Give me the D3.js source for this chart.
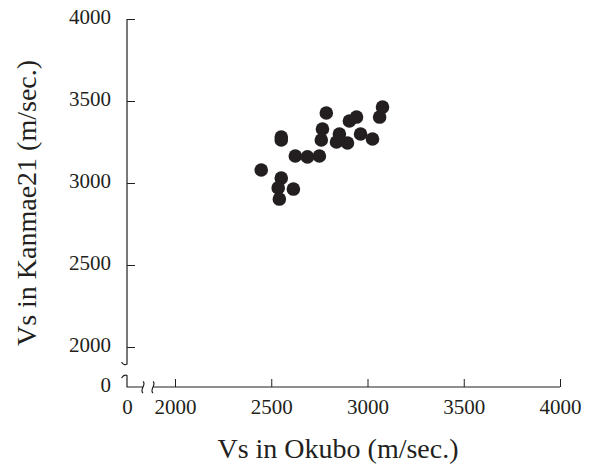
<!DOCTYPE html>
<html>
<head>
<meta charset="utf-8">
<script src="https://cdn.jsdelivr.net/npm/d3@7"></script>
<style>
  body { margin: 0; background: #fff; }
  text { font-family: "Liberation Serif", "Times New Roman", serif; fill: #231f20; }
</style>
</head>
<body>
<svg id="chart" width="592" height="465"></svg>
<script>
// Vs in Okubo (x) vs Vs in Kanmae21 (y), m/sec.
var okubo   = [2448, 2552, 2552, 2552, 2536, 2542, 2615, 2625, 2688, 2750, 2760,
               2766, 2786, 2854, 2839, 2896, 2906, 2943, 2964, 3026, 3078, 3063]
var kanmae  = [3079, 3280, 3262, 3030, 2970, 2902, 2963, 3165, 3159, 3165, 3262,
               3329, 3427, 3299, 3250, 3244, 3378, 3402, 3299, 3268, 3463, 3402]
var xTicks = [0, 2000, 2500, 3000, 3500, 4000]
var yTicks = [0, 2000, 2500, 3000, 3500, 4000]

var ink = "#231f20"
var svg = d3.select("#chart")

// broken axes: 0 sits at the corner, the real range starts at 2000
var x = d3.scaleLinear().domain([0, 2000, 4000]).range([127, 175, 560])
var y = d3.scaleLinear().domain([0, 2000, 4000]).range([387, 347, 19])

var xAxis = svg.append("g").attr("transform", "translate(0," + y(0) + ")")
  .call(d3.axisBottom(x).tickValues(xTicks).tickFormat(d3.format("d"))
        .tickSizeInner(-8).tickSizeOuter(0).tickPadding(14))
var yAxis = svg.append("g").attr("transform", "translate(" + x(0) + ",0)")
  .call(d3.axisLeft(y).tickValues(yTicks).tickFormat(d3.format("d"))
        .tickSizeInner(-8).tickSizeOuter(0).tickPadding(16))

;[xAxis, yAxis].forEach(function(a){
  a.select(".domain").remove()
  a.selectAll(".tick line").attr("stroke", ink)
  a.selectAll(".tick").filter(function(d){ return d === 0 }).select("line").remove()
  a.selectAll(".tick text").attr("font-size", 21).attr("font-family", "Liberation Serif").attr("fill", ink)
})
xAxis.selectAll(".tick text").attr("dy", "0.62em")
yAxis.selectAll(".tick text").attr("dy", "0.22em")
yAxis.selectAll(".tick").filter(function(d){ return d === 0 }).select("text").attr("dy", "0.2em")

// axis lines with break marks
var axisLines = svg.append("g").attr("fill", "none").attr("stroke", ink).attr("stroke-width", 1.2)
var x0 = x(0), y0 = y(0)
axisLines.append("path").attr("d", "M" + x0 + "," + y(4000) + "V364 Q124,366 121.5,362")
axisLines.append("path").attr("d", "M121.5,378 Q124,374 " + x0 + ",375.5 V" + y0 + " H143")
axisLines.append("path").attr("d", "M143,381.5 C147,384 139,390 143,393")
axisLines.append("path").attr("d", "M153,381.5 C157,384 149,390 153,393")
axisLines.append("path").attr("d", "M153," + y0 + " H" + x(4000))

// points
svg.append("g").selectAll("circle")
  .data(okubo)
  .enter().append("circle")
  .attr("cx", function(d){ return x(d) })
  .attr("cy", function(d, i){ return y(kanmae[i]) })
  .attr("r", 6.8)
  .attr("fill", ink)

// axis titles
svg.append("text").attr("x", 338).attr("y", 458).attr("text-anchor", "middle")
  .attr("font-size", 28).text("Vs in Okubo (m/sec.)")
svg.append("text").attr("transform", "translate(36,203) rotate(-90)").attr("text-anchor", "middle")
  .attr("font-size", 28).text("Vs in Kanmae21 (m/sec.)")
</script>
</body>
</html>
